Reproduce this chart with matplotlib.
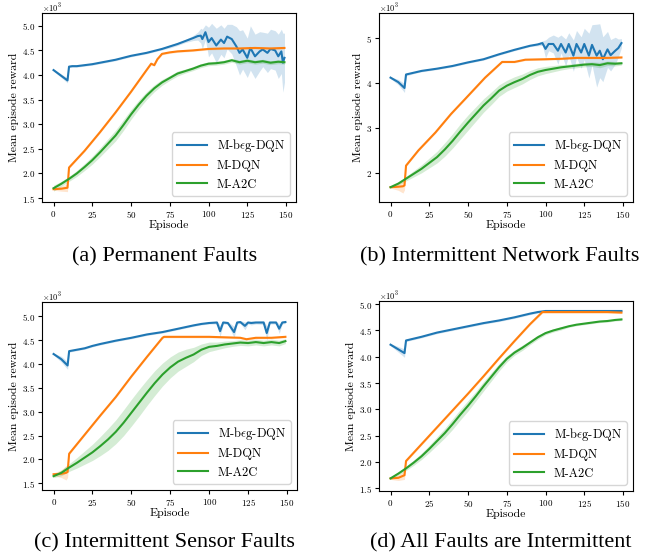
import numpy as np
import matplotlib
matplotlib.use('Agg')
import matplotlib.pyplot as plt
from matplotlib.ticker import MultipleLocator

plt.rcParams['font.family'] = ['cmr10', 'DejaVu Serif']
plt.rcParams['mathtext.fontset'] = 'cm'
plt.rcParams['axes.formatter.use_mathtext'] = True
plt.rcParams['axes.unicode_minus'] = False

labels = [r'M-b$\epsilon$g-DQN', 'M-DQN', 'M-A2C']
captions = ['(a) Permanent Faults', '(b) Intermittent Network Faults',
            '(c) Intermittent Sensor Faults', '(d) All Faults are Intermittent']

# episodes grid used by the A2C curves
grid_ep = [0, 5, 10, 15, 20, 25, 30, 35, 40, 45, 50, 55, 60, 65, 70, 75, 80, 85, 90, 95,
           100, 105, 110, 115, 120, 125, 130, 135, 140, 145, 149]

# ---- (a) Permanent faults (reward in thousands) ----
blue_a_ep = [0, 9, 10, 12, 15, 20, 25, 30, 35, 40, 45, 50, 55, 60, 65, 70, 75, 80, 85, 90, 93, 95, 96, 98,
             100, 102, 105, 108, 110, 112, 115, 118, 120, 122, 125, 127, 130, 133, 135, 138, 140, 143, 145, 147, 148, 149]
blue_a = [4.10, 3.89, 4.17, 4.18, 4.18, 4.20, 4.22, 4.25, 4.28, 4.31, 4.35, 4.39, 4.42, 4.45, 4.49, 4.53, 4.58, 4.63,
          4.69, 4.75, 4.79, 4.80, 4.73, 4.87, 4.67, 4.75, 4.60, 4.72, 4.65, 4.78, 4.73, 4.58, 4.45, 4.52, 4.35, 4.55,
          4.38, 4.48, 4.52, 4.45, 4.53, 4.50, 4.38, 4.48, 4.25, 4.35]
blue_a_sd = [0.02, 0.05, 0.02, 0.02, 0.02, 0.02, 0.02, 0.02, 0.02, 0.02, 0.02, 0.02, 0.02, 0.02, 0.02, 0.02, 0.03, 0.03,
             0.03, 0.05, 0.08, 0.15, 0.2, 0.15, 0.3, 0.3, 0.35, 0.3, 0.3, 0.25, 0.3, 0.4, 0.45, 0.4, 0.4, 0.45,
             0.45, 0.4, 0.35, 0.4, 0.4, 0.4, 0.45, 0.45, 0.6, 0.5]
orange_a_ep = [0, 5, 9, 10, 20, 30, 40, 50, 60, 63, 65, 67, 70, 75, 80, 90, 100, 110, 120, 130, 140, 149]
orange_a = [1.68, 1.69, 1.71, 2.12, 2.46, 2.84, 3.24, 3.66, 4.10, 4.23, 4.20, 4.32, 4.43, 4.46, 4.48, 4.50,
            4.53, 4.54, 4.54, 4.55, 4.54, 4.55]
orange_a_sd = [0.02, 0.05, 0.08, 0.02, 0.02, 0.02, 0.02, 0.02, 0.02, 0.02, 0.02, 0.02, 0.02, 0.02, 0.02, 0.02,
               0.02, 0.02, 0.02, 0.02, 0.02, 0.02]
green_a = [1.70, 1.79, 1.89, 2.00, 2.13, 2.27, 2.43, 2.60, 2.77, 2.98, 3.20, 3.40, 3.58, 3.73, 3.85, 3.94, 4.03,
           4.08, 4.13, 4.19, 4.23, 4.24, 4.26, 4.30, 4.26, 4.29, 4.26, 4.28, 4.25, 4.27, 4.26]
green_a_sd = [0.06, 0.05, 0.05, 0.06, 0.07, 0.08, 0.09, 0.10, 0.11, 0.11, 0.10, 0.09, 0.08, 0.07, 0.06, 0.05, 0.05,
              0.04, 0.04, 0.04, 0.04, 0.04, 0.04, 0.04, 0.04, 0.04, 0.04, 0.04, 0.04, 0.04, 0.04]

# ---- (b) Intermittent network faults ----
blue_b_ep = [0, 5, 9, 10, 15, 20, 30, 40, 50, 60, 70, 80, 90, 95, 98, 100, 102, 105, 108, 110, 113, 115, 118, 120,
             123, 125, 128, 130, 133, 135, 137, 140, 142, 145, 147, 149]
blue_b = [4.12, 4.02, 3.89, 4.19, 4.23, 4.27, 4.32, 4.38, 4.46, 4.53, 4.64, 4.74, 4.83, 4.86, 4.89, 4.76, 4.87, 4.87,
          4.72, 4.87, 4.68, 4.87, 4.61, 4.87, 4.68, 4.87, 4.61, 4.85, 4.61, 4.72, 4.53, 4.75, 4.62, 4.72, 4.78, 4.89]
blue_b_sd = [0.02, 0.06, 0.10, 0.03, 0.02, 0.02, 0.02, 0.02, 0.02, 0.02, 0.02, 0.02, 0.02, 0.03, 0.05, 0.2, 0.15, 0.2,
             0.3, 0.2, 0.3, 0.25, 0.35, 0.3, 0.35, 0.35, 0.5, 0.45, 0.7, 0.6, 0.5, 0.4, 0.35, 0.3, 0.2, 0.1]
orange_b_ep = [0, 5, 8, 9, 10, 18, 29, 39, 48, 61, 72, 80, 87, 100, 110, 120, 130, 140, 149]
orange_b = [1.68, 1.69, 1.70, 1.72, 2.16, 2.50, 2.90, 3.31, 3.64, 4.12, 4.47, 4.47, 4.52, 4.53, 4.54, 4.56, 4.56,
            4.56, 4.57]
orange_b_sd = [0.02, 0.08, 0.15, 0.10, 0.02, 0.02, 0.02, 0.02, 0.02, 0.02, 0.02, 0.02, 0.02, 0.02, 0.02, 0.02, 0.02,
               0.02, 0.02]
green_b = [1.68, 1.76, 1.87, 1.98, 2.09, 2.22, 2.35, 2.52, 2.71, 2.92, 3.12, 3.31, 3.50, 3.66, 3.83, 3.94, 4.02,
           4.09, 4.18, 4.25, 4.29, 4.32, 4.35, 4.37, 4.39, 4.41, 4.42, 4.40, 4.44, 4.43, 4.44]
green_b_sd = [0.02, 0.03, 0.05, 0.07, 0.09, 0.11, 0.13, 0.15, 0.16, 0.17, 0.17, 0.16, 0.15, 0.14, 0.13, 0.12, 0.12,
              0.11, 0.10, 0.09, 0.08, 0.07, 0.06, 0.05, 0.05, 0.05, 0.05, 0.06, 0.05, 0.05, 0.04]

# ---- (c) Intermittent sensor faults ----
blue_c_ep = [0, 5, 9, 10, 15, 20, 25, 30, 40, 50, 60, 70, 80, 90, 95, 100, 105, 107, 109, 112, 116, 118, 120, 123,
             125, 127, 130, 135, 137, 139, 143, 145, 147, 149]
blue_c = [4.21, 4.10, 3.97, 4.27, 4.30, 4.33, 4.38, 4.42, 4.49, 4.55, 4.62, 4.67, 4.74, 4.81, 4.84, 4.86, 4.87, 4.69,
          4.87, 4.86, 4.67, 4.87, 4.88, 4.80, 4.87, 4.86, 4.87, 4.87, 4.65, 4.87, 4.87, 4.74, 4.87, 4.88]
blue_c_sd = [0.02, 0.06, 0.08, 0.02, 0.02, 0.02, 0.02, 0.02, 0.02, 0.02, 0.02, 0.02, 0.02, 0.02, 0.02, 0.02, 0.03, 0.12,
             0.03, 0.03, 0.12, 0.03, 0.03, 0.08, 0.03, 0.04, 0.03, 0.04, 0.15, 0.03, 0.03, 0.1, 0.03, 0.03]
orange_c_ep = [0, 5, 8, 9, 10, 20, 30, 40, 50, 60, 70, 71, 80, 90, 100, 110, 120, 124, 130, 140, 149]
orange_c = [1.69, 1.70, 1.72, 1.74, 2.12, 2.52, 2.92, 3.31, 3.74, 4.15, 4.55, 4.57, 4.57, 4.57, 4.57, 4.56, 4.55,
            4.52, 4.55, 4.55, 4.57]
orange_c_sd = [0.03, 0.08, 0.15, 0.12, 0.02, 0.02, 0.02, 0.02, 0.02, 0.02, 0.02, 0.02, 0.02, 0.02, 0.02, 0.02, 0.02,
               0.02, 0.02, 0.02, 0.02]
green_c = [1.65, 1.72, 1.83, 1.93, 2.04, 2.15, 2.28, 2.42, 2.58, 2.77, 2.98, 3.19, 3.40, 3.60, 3.78, 3.93, 4.05,
           4.13, 4.20, 4.30, 4.36, 4.38, 4.41, 4.43, 4.45, 4.44, 4.46, 4.44, 4.46, 4.44, 4.48]
green_c_sd = [0.03, 0.06, 0.08, 0.11, 0.14, 0.17, 0.20, 0.23, 0.25, 0.27, 0.28, 0.28, 0.27, 0.26, 0.24, 0.22, 0.20,
              0.18, 0.15, 0.12, 0.10, 0.08, 0.07, 0.06, 0.06, 0.06, 0.06, 0.06, 0.06, 0.06, 0.05]

# ---- (d) All faults intermittent ----
blue_d_ep = [0, 9, 10, 20, 30, 40, 50, 60, 70, 80, 90, 95, 100, 110, 120, 130, 140, 149]
blue_d = [4.23, 4.07, 4.31, 4.38, 4.46, 4.52, 4.58, 4.64, 4.69, 4.75, 4.82, 4.85, 4.87, 4.87, 4.87, 4.87, 4.87, 4.87]
blue_d_sd = [0.02, 0.08, 0.02, 0.02, 0.02, 0.02, 0.02, 0.02, 0.02, 0.02, 0.02, 0.02, 0.02, 0.02, 0.02, 0.02, 0.02,
             0.02]
orange_d_ep = [0, 5, 9, 10, 20, 30, 40, 50, 60, 70, 80, 90, 98, 100, 110, 120, 130, 140, 149]
orange_d = [1.69, 1.70, 1.75, 2.02, 2.34, 2.66, 2.98, 3.30, 3.63, 3.97, 4.30, 4.62, 4.85, 4.85, 4.85, 4.85, 4.85,
            4.85, 4.84]
orange_d_sd = [0.02, 0.05, 0.08, 0.02, 0.02, 0.02, 0.02, 0.02, 0.02, 0.02, 0.02, 0.02, 0.02, 0.02, 0.02, 0.02, 0.02,
               0.02, 0.02]
green_d = [1.69, 1.78, 1.88, 1.99, 2.11, 2.25, 2.40, 2.55, 2.72, 2.90, 3.07, 3.25, 3.44, 3.62, 3.80, 3.96, 4.08,
           4.17, 4.27, 4.37, 4.45, 4.50, 4.54, 4.58, 4.61, 4.63, 4.65, 4.67, 4.68, 4.70, 4.71]
green_d_sd = [0.02, 0.03, 0.04, 0.05, 0.06, 0.07, 0.08, 0.09, 0.10, 0.10, 0.10, 0.09, 0.09, 0.08, 0.07, 0.06, 0.05,
              0.05, 0.04, 0.04, 0.03, 0.03, 0.03, 0.02, 0.02, 0.02, 0.02, 0.02, 0.02, 0.02, 0.02]

panels = [
    [(blue_a_ep, blue_a, blue_a_sd), (orange_a_ep, orange_a, orange_a_sd), (grid_ep, green_a, green_a_sd)],
    [(blue_b_ep, blue_b, blue_b_sd), (orange_b_ep, orange_b, orange_b_sd), (grid_ep, green_b, green_b_sd)],
    [(blue_c_ep, blue_c, blue_c_sd), (orange_c_ep, orange_c, orange_c_sd), (grid_ep, green_c, green_c_sd)],
    [(blue_d_ep, blue_d, blue_d_sd), (orange_d_ep, orange_d, orange_d_sd), (grid_ep, green_d, green_d_sd)],
]
ylims = [(1.42, 5.26), (1.35, 5.56), (1.36, 5.30), (1.45, 5.06)]
ystep = [0.5, 1.0, 0.5, 0.5]
colors = ['tab:blue', 'tab:orange', 'tab:green']

# axes boxes in pixels: left, top, right, bottom (figure 657x558)
W, H = 657, 558
boxes = [(42, 13, 296, 202), (379, 13, 633, 202), (42, 302, 297, 490), (379, 301, 633, 491)]
cap_pos = [(165, 257), (500, 257), (164, 543), (501, 543)]

fig = plt.figure(figsize=(W / 100, H / 100), dpi=100)
for i in range(4):
    l, t, r, b = boxes[i]
    ax = fig.add_axes([l / W, 1 - b / H, (r - l) / W, (b - t) / H])
    for (ep, m, sd), c, lab in zip(panels[i], colors, labels):
        ep = np.array(ep)
        m = np.array(m) * 1000
        sd = np.array(sd) * 1000
        ax.fill_between(ep, m - sd, m + sd, color=c, alpha=0.2, linewidth=0)
        ax.plot(ep, m, color=c, lw=1.5, label=lab)
    ax.set_xlim(-7.45, 156.45)
    ax.set_ylim(ylims[i][0] * 1000, ylims[i][1] * 1000)
    ax.xaxis.set_major_locator(MultipleLocator(25))
    ax.yaxis.set_major_locator(MultipleLocator(ystep[i] * 1000))
    ax.ticklabel_format(axis='y', style='sci', scilimits=(3, 3), useMathText=True)
    ax.tick_params(labelsize=6.5, length=3, pad=2)
    ax.yaxis.OFFSETTEXTPAD = 0.5
    ax.yaxis.get_offset_text().set_fontsize(6)
    ax.set_xlabel('Episode', fontsize=8.5, labelpad=0)
    ax.set_ylabel('Mean episode reward', fontsize=8.5, labelpad=2)
    ax.legend(loc='lower right', fontsize=9, handlelength=2.4)
    fig.text(cap_pos[i][0] / W, 1 - cap_pos[i][1] / H, captions[i], ha='center', va='center',
             fontsize=16, family='Liberation Serif')

fig.savefig('out.png', dpi=100)
